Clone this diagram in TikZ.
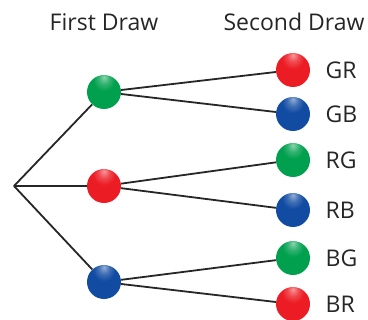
\documentclass[tikz,border=0pt]{standalone}
\usepackage{fontspec}
\setmainfont{Open Sans}
\usepackage{tikz}
\definecolor{ballred}{RGB}{236, 28, 36}
\definecolor{ballgreen}{RGB}{0, 160, 78}
\definecolor{ballblue}{RGB}{18, 76, 162}
\colorlet{ballcol}{ballred}
\usetikzlibrary{positioning, calc}
\pgfdeclareradialshading[ballcol]{glossy}{\pgfqpoint{0bp}{22bp}}{%
    color(0bp)=(ballcol!45!white); color(8bp)=(ballcol!80!white);
    color(16bp)=(ballcol); color(52bp)=(ballcol);
    color(64bp)=(ballcol!78!black); color(80bp)=(ballcol!65!black)}

\begin{document}
\begin{tikzpicture}[
    x=1pt, y=-1pt,
    ball/.style={circle, minimum size=34pt, inner sep=0pt, shading=glossy},
    redball/.style={/utils/exec={\colorlet{ballcol}{ballred}}, ball},
    greenball/.style={/utils/exec={\colorlet{ballcol}{ballgreen}}, ball},
    blueball/.style={/utils/exec={\colorlet{ballcol}{ballblue}}, ball},
    branch/.style={line width=1.8pt, draw=black!85},
    outcome/.style={font=\fontsize{23}{26}\selectfont, text=black!85, anchor=west},
    title/.style={font=\fontsize{23}{26}\selectfont, text=black!85}
]
    \useasboundingbox (0,0) rectangle (368,320);

    \node[title] (first) at (104, 22) {First Draw};
    \node[title] (second) at (294, 22) {Second Draw};

    \coordinate (root) at (14, 186);

    % first draw
    \node[greenball] (g) at (104, 92) {};
    \node[redball] (r) at (104, 186) {};
    \node[blueball] (b) at (104, 282) {};

    % second draw
    \node[redball] (gr) at (293, 70) {};
    \node[outcome, right=12pt of gr] {GR};
    \node[blueball] (gb) at (293, 114) {};
    \node[outcome, right=12pt of gb] {GB};

    \node[greenball] (rg) at (293, 160) {};
    \node[outcome, right=12pt of rg] {RG};
    \node[blueball] (rb) at (293, 210) {};
    \node[outcome, right=12pt of rb] {RB};

    \node[greenball] (bg) at (293, 258) {};
    \node[outcome, right=12pt of bg] {BG};
    \node[redball] (br) at (293, 304) {};
    \node[outcome, right=12pt of br] {BR};

    \foreach \a in {g, r, b}
        \draw[branch] (root) -- (\a);
    \draw[branch] (g) -- (gr);
    \draw[branch] (g) -- (gb);
    \draw[branch] (r) -- (rg);
    \draw[branch] (r) -- (rb);
    \draw[branch] (b) -- (bg);
    \draw[branch] (b) -- (br);

\end{tikzpicture}
\end{document}
